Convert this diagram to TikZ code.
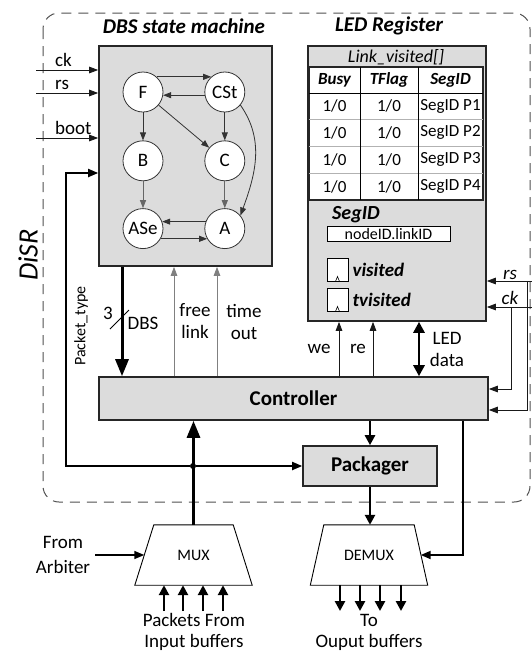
\documentclass[tikz,border=0pt]{standalone}
\usepackage{fontspec}
\setmainfont{Carlito}
\usetikzlibrary{positioning,shapes.geometric,arrows.meta}

\definecolor{blockgray}{RGB}{220,220,220}
\definecolor{dashgray}{RGB}{80,80,80}
\newcommand{\fsz}[1]{\fontsize{#1}{22}\selectfont}

\begin{document}
\begin{tikzpicture}[x=1pt, y=-1pt,
  every node/.style={font=\fsz{19}, inner sep=1pt},
  block/.style={draw=black!85, line width=1.6pt, fill=blockgray},
  blocklabel/.style={font=\fsz{21}\bfseries},
  title/.style={font=\fsz{21}\bfseries\itshape},
  state/.style={circle, draw=black!80, line width=0.8pt, fill=white, minimum size=40pt, inner sep=0pt},
  trans/.style={-{Triangle[length=8pt,width=6pt]}, line width=0.8pt, black!80},
  sig/.style={-{Triangle[length=9pt,width=6.5pt]}, line width=0.9pt, black!90},
  graysig/.style={-{Triangle[length=9pt,width=6.5pt]}, line width=1pt, black!50},
  ctrlwire/.style={-{Triangle[length=10pt,width=8pt]}, line width=1.8pt},
  bus/.style={-{Triangle[length=17pt,width=13pt]}, line width=3pt},
  port/.style={-{Triangle[length=10pt,width=10pt]}, line width=2.8pt},
  muxbody/.style={minimum width=117pt, minimum height=60pt, inner sep=0pt, font=\fsz{16}},
  muxline/.style={draw, fill=white, line width=0.9pt, line join=miter},
  reg/.style={draw, fill=white, line width=0.9pt, minimum width=21pt, minimum height=23pt, inner sep=0pt},
  cell/.style={font=\fsz{17}},
  head/.style={font=\fsz{17}\bfseries\itshape}
]
\useasboundingbox (0,0) rectangle (531,651);

\draw[dashgray, line width=1pt, dash pattern=on 10pt off 7pt, rounded corners=16pt] (43,13) rectangle (530,502);
\node[rotate=90, font=\fsz{28}\itshape] (disr) at (28,255) {DiSR};

\node[title] (dbstitle) at (184,26) {DBS state machine};
\node[title] (ledtitle) at (389,26) {LED Register};

\node[block, minimum width=173pt, minimum height=220pt] (dbs) at (185.5,156) {};
\node[block, minimum width=178pt, minimum height=275pt] (led) at (397,183.5) {};
\node[block, minimum width=389pt, minimum height=43pt, blocklabel] (ctrl) at (293.5,398.5) {Controller};
\node[block, minimum width=134pt, minimum height=40pt, blocklabel] (pack) at (370,466) {Packager};

\node[state] (f) at (143,92) {F};
\node[state, right=41pt of f] (cst) {CSt};
\node[state, below=28pt of f] (b) {B};
\node[state, below=28pt of cst] (c) {C};
\node[state, below=27pt of b] (ase) {ASe};
\node[state, below=27pt of c] (a) {A};

\draw[trans] (f.48) -- (cst.132);
\draw[trans] (cst.189) -- (f.-9);
\draw[trans] (f) -- (b);
\draw[trans] (f) -- (c);
\draw[trans] (cst) -- (c);
\draw[trans] (cst.-40) to[out=-55, in=70] (a.40);
\draw[trans, black!60, line width=1pt] (b) -- (ase);
\draw[trans, black!60, line width=1pt] (c) -- (a);
\draw[trans] (a.160) -- (ase.20);
\draw[trans] (ase.-30) -- (a.210);

\foreach \sname/\yy in {ck/70, rs/93, boot/138}{
  \coordinate (l\sname) at (36,\yy);
  \node[anchor=base west] (l\sname lbl) at (54,{\yy-4}) {\sname};
  \draw[sig] (l\sname) -- (l\sname -| dbs.west);
}

\node[circle, fill=black, inner sep=0pt, minimum size=6pt] (tap) at (193,466) {};
\coordinate (ptype) at (66,173);
\draw[ctrlwire] (tap) -| (ptype) -- (ptype -| dbs.west);
\draw[ctrlwire] (tap) -- (tap -| pack.west);
\node[rotate=90, font=\fsz{16}] (ptlbl) at (81,326) {Packet\_type};

\coordinate (dbsbus) at (122,320);
\draw[bus] (dbs.south -| dbsbus) -- (ctrl.north -| dbsbus);
\draw[line width=0.9pt] ([shift={(-12,9)}]dbsbus) -- ([shift={(7,-10)}]dbsbus);
\node (buswidth) at (108,313) {3};
\node (busname) at (143,323) {DBS};

\coordinate (freex) at (174,0);
\draw[graysig] (ctrl.north -| freex) -- (dbs.south -| freex);
\node[align=center] (freelbl) at (195,321) {free\\link};
\coordinate (timex) at (217,0);
\draw[graysig] (ctrl.north -| timex) -- (dbs.south -| timex);
\node[align=center] (timelbl) at (244,322) {time\\out};

\coordinate (wex) at (339,0);
\draw[sig] (ctrl.north -| wex) -- (led.south -| wex);
\node (welbl) at (319,349) {we};
\coordinate (rex) at (373,0);
\draw[sig] (ctrl.north -| rex) -- (led.south -| rex);
\node (relbl) at (358,349) {re};
\coordinate (datax) at (419,0);
\draw[{Triangle[length=11pt,width=11pt]}-{Triangle[length=11pt,width=11pt]}, line width=2.8pt] (ctrl.north -| datax) -- (led.south -| datax);
\node[align=center] (datalbl) at (447,349.5) {LED\\data};

\coordinate (rsR) at (533,281);
\coordinate (rsT) at (527,281);
\coordinate (rsC) at (527,410);
\draw[sig] (rsR) -- (rsR -| led.east);
\draw[sig] (rsT) -- (rsC) -- (rsC -| ctrl.east);
\coordinate (ckR) at (533,307);
\coordinate (ckT) at (511,307);
\coordinate (ckC) at (511,389);
\draw[sig] (ckR) -- (ckR -| led.east);
\draw[sig] (ckT) -- (ckC) -- (ckC -| ctrl.east);
\node[anchor=base, font=\fsz{19}\itshape] (rslbl) at (510,279) {rs};
\node[anchor=base, font=\fsz{19}\itshape] (cklbl) at (510,304) {ck};

\node[font=\fsz{18}\itshape] (linkvis) at (396,57) {Link\_visited[]};
\node[draw=black!85, line width=1.2pt, fill=white, minimum width=174pt, minimum height=133pt, inner sep=0pt] (tbl) at (396,133.5) {};
\draw[line width=1pt] (309,93) -- (483,93);
\foreach \yy in {119,146,173}
  \draw[black!30, line width=1pt] (309,\yy) -- (483,\yy);
\foreach \xx in {360,418}
  \draw[line width=1pt] (\xx,67) -- (\xx,200);
\node[head] (hbusy) at (334.5,80) {Busy};
\node[head] (htflag) at (389,80) {TFlag};
\node[head] (hseg) at (450.5,80) {SegID};
\foreach \yy [count=\i] in {106,132.5,159.5,186.5}{
  \node[cell] (busy\i) at (334.5,\yy) {1/0};
  \node[cell] (tflag\i) at (389,\yy) {1/0};
  \node[cell] (seg\i) at (450.5,\yy) {SegID P\i};
}

\node[font=\fsz{20}\bfseries\itshape] (seglbl) at (356,215) {SegID};
\node[draw, fill=white, line width=0.9pt, minimum width=123pt, minimum height=15pt, inner sep=0pt, font=\fsz{16}] (segbox) at (388.5,234) {nodeID.linkID};
\node[reg] (vis) at (337.5,269.5) {};
\node[reg] (tvis) at (337.5,299.5) {};
\node[anchor=west, font=\fsz{19}\bfseries\itshape] (vislbl) at ([xshift=3pt]vis.east) {visited};
\node[anchor=west, font=\fsz{19}\bfseries\itshape] (tvislbl) at ([xshift=3pt]tvis.east) {tvisited};
\foreach \r in {vis,tvis}
  \draw[line width=0.6pt] ([xshift=-2pt]\r.south) -- ++(2,-5) -- ++(2,5);

\node[muxbody] (mux) at (193.5,555) {};
\draw[muxline] (mux.south west) -- ([xshift=19pt]mux.north west) -- ([xshift=-19pt]mux.north east) -- (mux.south east) -- cycle;
\node[font=\fsz{16}] (muxlbl) at (mux) {MUX};
\node[muxbody] (demux) at (369,555) {};
\draw[muxline] (demux.south west) -- ([xshift=13.5pt]demux.north west) -- ([xshift=-13.5pt]demux.north east) -- (demux.south east) -- cycle;
\node[font=\fsz{16}] (demuxlbl) at (demux) {DEMUX};

\draw[bus] (mux.north) -- (mux.north |- ctrl.south);
\draw[port] (ctrl.south -| pack.north) -- (pack.north);
\draw[port] (pack.south) -- (pack.south |- demux.north);
\coordinate (dmxturn) at (463,555);
\draw[ctrlwire] (ctrl.south -| dmxturn) -- (dmxturn) -- ([xshift=-7pt]demux.east);

\node[align=center, font=\fontsize{19}{25}\selectfont] (arb) at (63,555) {From\\Arbiter};
\draw[ctrlwire, line width=1.4pt] ([xshift=4pt]arb.east) -- ([xshift=9.5pt]mux.west);

\foreach \xx [count=\i] in {164,183,203,223}{
  \coordinate (pin\i) at (\xx,611);
  \draw[port] (pin\i) -- (pin\i |- mux.south);
}
\node[align=center, font=\fontsize{19}{21}\selectfont] (inlbl) at (194,632) {Packets From\\Input buffers};
\foreach \xx [count=\i] in {340,360,380,401}{
  \coordinate (pout\i) at (\xx,611);
  \draw[port] (pout\i |- demux.south) -- (pout\i);
}
\node[align=center, font=\fontsize{19}{21}\selectfont] (outlbl) at (369,632) {To\\Ouput buffers};
\end{tikzpicture}
\end{document}
